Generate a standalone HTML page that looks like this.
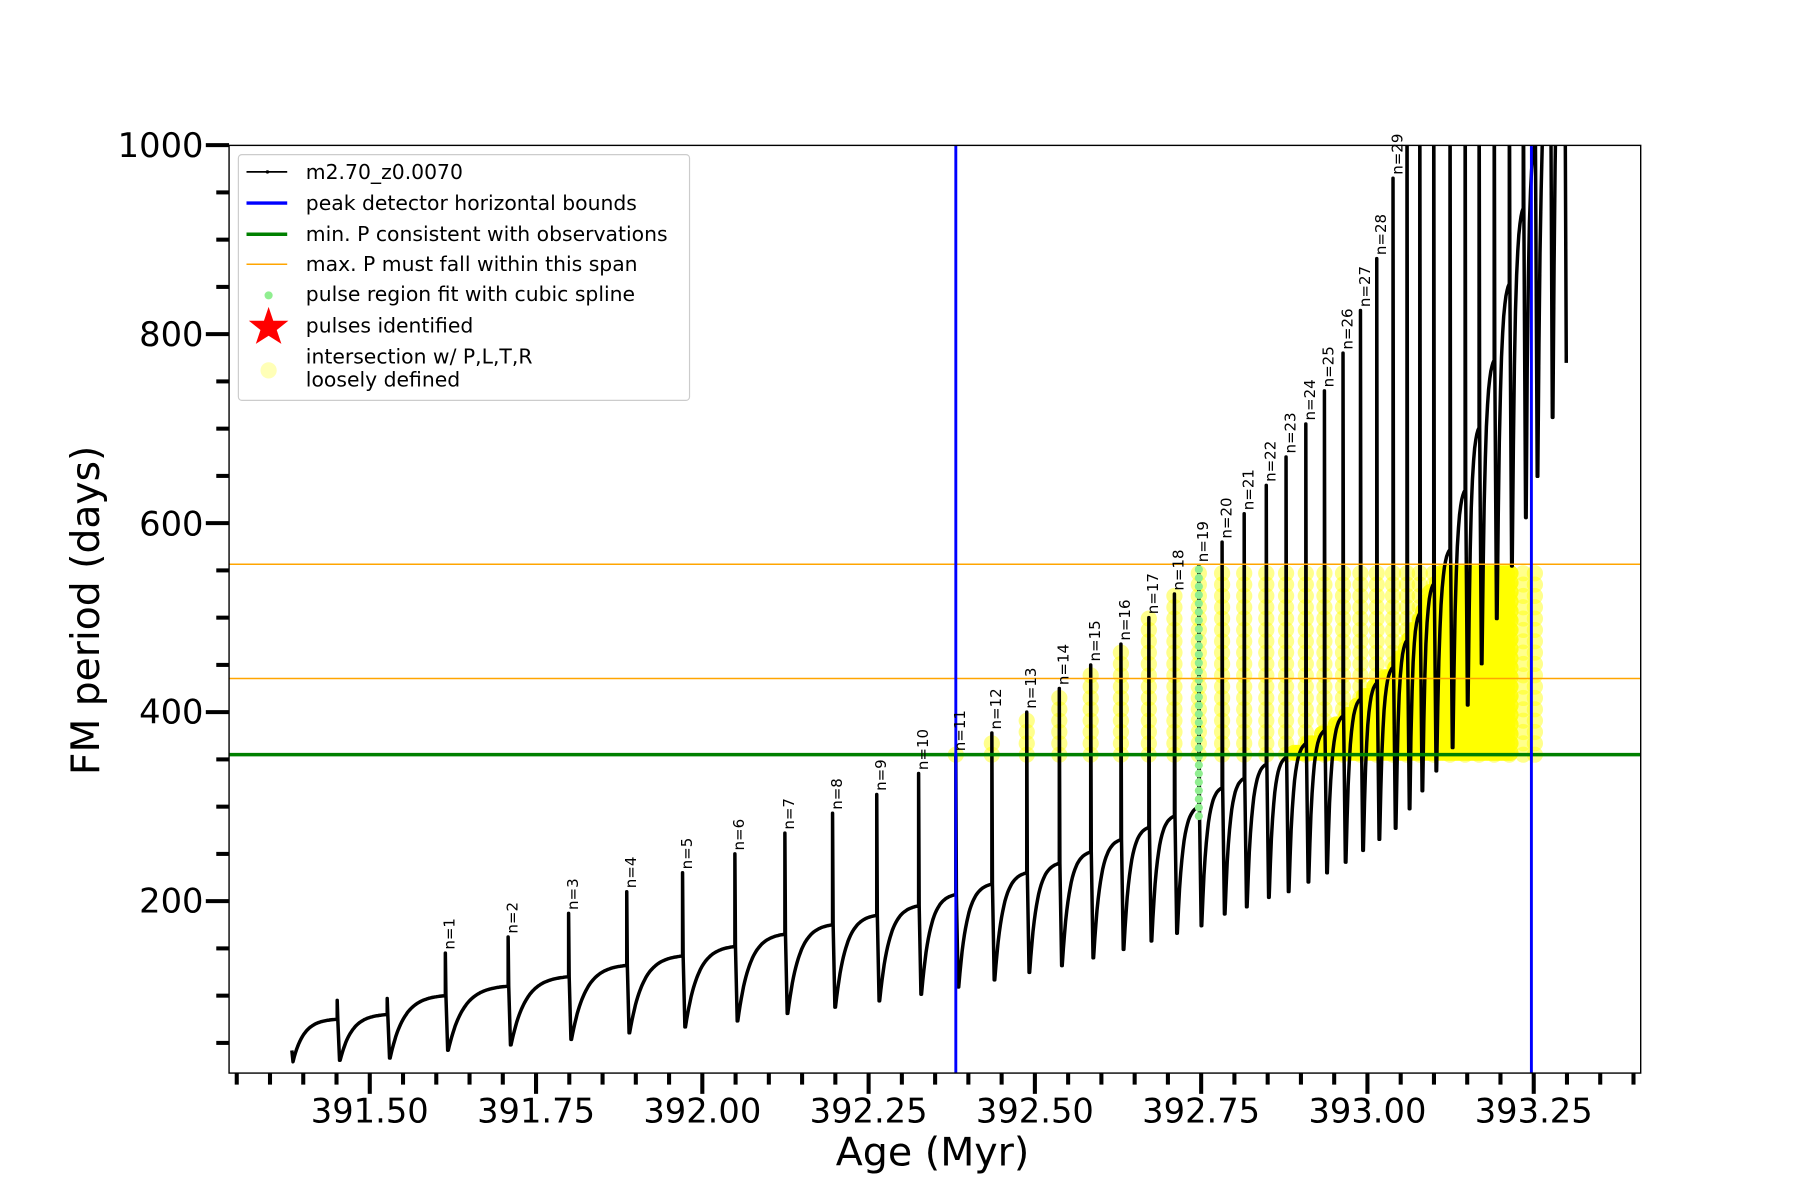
<!DOCTYPE html>
<html><head><meta charset="utf-8"><style>
html,body{margin:0;padding:0;background:#fff;}
svg{display:block;}
text{font-family:"DejaVu Sans","Liberation Sans",sans-serif;}
</style></head><body>
<svg id="s" width="1800" height="1200" viewBox="0 0 1548 1040" preserveAspectRatio="none" xmlns="http://www.w3.org/2000/svg">
<defs><clipPath id="c"><rect x="197" y="126" width="1214" height="804"/></clipPath></defs>
<rect x="0" y="0" width="1548" height="1040" fill="#fff"/>
<g id="data" clip-path="url(#c)"></g>
<g id="over" clip-path="url(#c)">
<line x1="197" x2="1411" y1="489" y2="489" stroke="#ffa500" stroke-width="1.3"/>
<line x1="197" x2="1411" y1="588" y2="588" stroke="#ffa500" stroke-width="1.3"/>
<line x1="197" x2="1411" y1="654" y2="654" stroke="#008000" stroke-width="3"/>
<line x1="822" x2="822" y1="126" y2="930" stroke="#0000ff" stroke-width="2.5"/>
<line x1="1317" x2="1317" y1="126" y2="930" stroke="#0000ff" stroke-width="2.5"/>
</g>
<g id="labels"></g>
<rect x="197" y="126" width="1214" height="804" fill="none" stroke="#000" stroke-width="1.2"/>
<g id="ticks" stroke="#000" stroke-width="3.5"></g>
<g font-size="29" fill="#000" text-anchor="end">
<text x="175" y="136">1000</text><text x="175" y="300">800</text><text x="175" y="464">600</text><text x="175" y="627">400</text><text x="175" y="791">200</text>
</g>
<g font-size="29" fill="#000" text-anchor="middle">
<text x="318" y="973">391.50</text><text x="461" y="973">391.75</text><text x="604" y="973">392.00</text><text x="747" y="973">392.25</text><text x="890" y="973">392.50</text><text x="1033" y="973">392.75</text><text x="1176" y="973">393.00</text><text x="1319" y="973">393.25</text>
</g>
<text x="802" y="1010" font-size="34" text-anchor="middle">Age (Myr)</text>
<text transform="translate(85,529) rotate(-90)" font-size="34" text-anchor="middle">FM period (days)</text>
<g>
<rect x="205" y="134" width="388" height="213" rx="3" fill="#fff" fill-opacity="0.85" stroke="#ccc" stroke-width="1"/>
<line x1="212" x2="247" y1="149" y2="149" stroke="#000" stroke-width="1.5"/><circle cx="230" cy="149" r="1.5"/>
<line x1="212" x2="247" y1="176" y2="176" stroke="#0000ff" stroke-width="3"/>
<line x1="212" x2="247" y1="203" y2="203" stroke="#008000" stroke-width="3"/>
<line x1="212" x2="247" y1="229" y2="229" stroke="#ffa500" stroke-width="1.3"/>
<circle cx="231" cy="256" r="3.5" fill="#90ee90"/>
<polygon points="231,266 235,278 248,278 238,286 242,298 231,291 220,298 224,286 214,278 227,278" fill="#ff0000"/>
<circle cx="231" cy="321" r="7" fill="#ffff99" fill-opacity="0.7"/>
<g font-size="17.5" fill="#000">
<text x="263" y="155">m2.70_z0.0070</text>
<text x="263" y="182">peak detector horizontal bounds</text>
<text x="263" y="209">min. P consistent with observations</text>
<text x="263" y="235">max. P must fall within this span</text>
<text x="263" y="261">pulse region fit with cubic spline</text>
<text x="263" y="288">pulses identified</text>
<text x="263" y="315">intersection w/ P,L,T,R</text>
<text x="263" y="335">loosely defined</text>
</g>
</g>
</svg>
<script>
(function(){
var NS="http://www.w3.org/2000/svg";
function el(t,a,p){var e=document.createElementNS(NS,t);for(var k in a)e.setAttribute(k,a[k]);p.appendChild(e);return e;}
function Y(v){return 944.8-0.819*v;}
var data=document.getElementById('data'),labels=document.getElementById('labels'),ticks=document.getElementById('ticks');
for(var v=50;v<=1000;v+=50){var y=Y(v);var maj=(v%200==0);el('line',{x1:maj?177:186,x2:197,y1:y,y2:y},ticks);}
for(var i=0;i<=42;i++){var a=391.3+i*0.05;var x=318+(a-391.5)*572;if(x<198||x>1410)continue;var maj=Math.abs((a*4)-Math.round(a*4))<1e-6;el('line',{x1:x,x2:x,y1:930,y2:maj?948:940},ticks);}
var px=[290,333,383,437,489,539,587,632,675,716,754,790,822,853,883,911,938,964,988,1010,1031,1051,1070,1089,1106,1123,1139,1155,1170,1184,1198,1210,1221,1233,1247,1260,1272,1285,1298,1310,1320,1333,1345];
var peaks=[95,97,145,162,187,210,230,250,272,293,313,335,355,378,400,425,450,472,500,525,555,580,610,640,670,705,740,780,825,880,965];
var plat=[[251,45],[290,75],[333,80],[383,100],[437,110],[489,120],[539,132],[587,142],[632,152],[675,165],[716,175],[754,185],[790,195],[822,207],[853,218],[883,230],[911,240],[938,252],[964,265],[988,278],[1010,290],[1031,300],[1051,320],[1070,330],[1089,345],[1106,352],[1150,390],[1200,450],[1250,580],[1290,800],[1320,1000],[1360,1300]];
function P(x){for(var i=1;i<plat.length;i++){if(x<=plat[i][0]){var a=plat[i-1],b=plat[i];return a[1]+(b[1]-a[1])*(x-a[0])/(b[0]-a[0]);}}return 1300;}
function T(x){return P(x)*(0.42+0.22*Math.min(1,Math.max(0,(x-383)/(917))));}
var d="",pts=[];
function seg(xs,xe,t0,vend){var n=Math.max(6,Math.round((xe-xs)));for(var k=0;k<=n;k++){var f=k/n;var x=xs+f*(xe-xs);var w=1-Math.exp(-4*f);w=w/(1-Math.exp(-4));var v=t0+(vend-t0)*w;pts.push([x,v]);}}
pts.push([251,42]);pts.push([252,30]);
seg(253,290,35,P(290));
for(var i=0;i<px.length;i++){
 var x=px[i],pk=(i<peaks.length)?peaks[i]:1150;
 var pl=P(x);var tr=T(x+2);
 pts.push([x,pl]);pts.push([x,pk]);pts.push([x+0.5,pl]);pts.push([x+2,tr]);
 var xn=(i+1<px.length)?px[i+1]:1345;
 if(i+1<px.length)seg(x+2.5,xn,tr,P(xn));
}
for(var i=0;i<pts.length;i++){d+=(i?"L":"M")+pts[i][0].toFixed(1)+" "+Y(pts[i][1]).toFixed(1);}
var yg=el('g',{fill:'#ffff00','fill-opacity':'0.45'},data);
function yc(x,v){el('circle',{cx:x,cy:Y(v),r:7},yg);}
for(var i=0;i<px.length;i++){
 var x=px[i];if(x<822||x>1320)continue;
 var pk=(i<peaks.length)?peaks[i]:1150;
 var top=Math.min(pk,556);
 for(var v=355;v<=top;v+=12)yc(x,v);
}
var yg2=el('g',{fill:'#ffff00','fill-opacity':'0.85'},data);
for(var x=1098;x<1300;x+=3){
 var top=Math.min(P(x),556);
 for(var v=357;v<=top;v+=10){el('circle',{cx:x,cy:Y(v),r:7},yg2);}
}
el('path',{d:d,fill:'none',stroke:'#000','stroke-width':3,'stroke-linejoin':'round'},data);
var gg=el('g',{fill:'#90ee90'},data);
for(var v=290;v<=555;v+=9)el('circle',{cx:1031,cy:Y(v),r:3.5},gg);
for(var n=1;n<=29;n++){var i=n+1;var x=px[i]+8;var y=Y(peaks[i])-3;
 var t=el('text',{transform:'translate('+x+','+y+') rotate(-90)','font-size':'13',fill:'#000'},labels);t.textContent='n='+n;}
})();
</script>
</body></html>
